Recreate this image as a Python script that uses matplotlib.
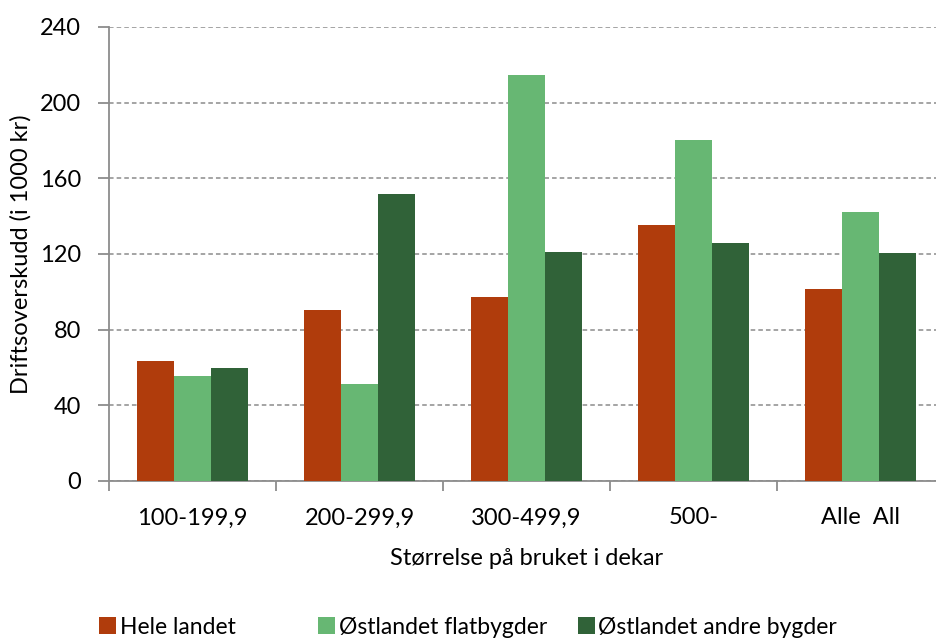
import matplotlib.pyplot as plt
import numpy as np

plt.rcParams['font.family'] = ['Lato', 'DejaVu Sans']

groups = ['100-199,9', '200-299,9', '300-499,9', '500-', 'Alle  All']
hele = [63.5, 90.4, 97.3, 135.3, 101.3]
flat = [55.6, 51.3, 214.6, 180.2, 142.3]
andre = [59.9, 151.7, 121.0, 125.8, 120.7]
series_names = ['Hele landet', 'Østlandet flatbygder', 'Østlandet andre bygder']
colors = ['#B03C0C', '#67B773', '#306238']

fig = plt.figure(figsize=(9.36, 6.39), dpi=100)
ax = fig.add_axes([0.1165, 0.2473, 0.892, 0.7105])

x = np.arange(len(groups))
width = 0.222
bars = []
for i, (vals, name, c) in enumerate(zip([hele, flat, andre], series_names, colors)):
    bars.append(ax.bar(x + (i - 1) * width, vals, width, color=c, label=name, zorder=3))

ax.set_xlim(-0.5, len(groups) - 0.5)
ax.set_ylim(0, 240)
ax.set_yticks(np.arange(0, 241, 40))

ax.yaxis.grid(True, color='#8c8c8c', linestyle=(0, (3, 2)), linewidth=1.1, zorder=0)
ax.set_axisbelow(True)

for s in ['top', 'right']:
    ax.spines[s].set_visible(False)
for s in ['left', 'bottom']:
    ax.spines[s].set_color('#8c8c8c')
    ax.spines[s].set_linewidth(1.3)

# group boundaries as major ticks, labels on minor ticks
ax.set_xticks(np.arange(-0.5, len(groups), 1.0))
ax.set_xticklabels([])
ax.set_xticks(x, minor=True)
ax.set_xticklabels(groups, minor=True)
ax.tick_params(axis='x', which='major', length=7, width=1.3, color='#8c8c8c')
ax.tick_params(axis='x', which='minor', length=0, pad=19, labelsize=17)
ax.tick_params(axis='y', length=8, width=1.3, color='#8c8c8c', labelsize=17, pad=12)

ax.set_ylabel('Driftsoverskudd (i 1000 kr)', fontsize=17, labelpad=6)
ax.set_xlabel('Størrelse på bruket i dekar', fontsize=17, labelpad=14)

# one legend entry per series, placed like the original
for b, name, xpos in zip(bars, series_names, [0.084, 0.318, 0.595]):
    fig.legend(handles=[b], labels=[name], loc='lower left', bbox_to_anchor=(xpos, -0.03),
               frameon=False, fontsize=16.5, handlelength=0.75, handleheight=0.75,
               handletextpad=0.15)

plt.savefig('out.png', dpi=100)
